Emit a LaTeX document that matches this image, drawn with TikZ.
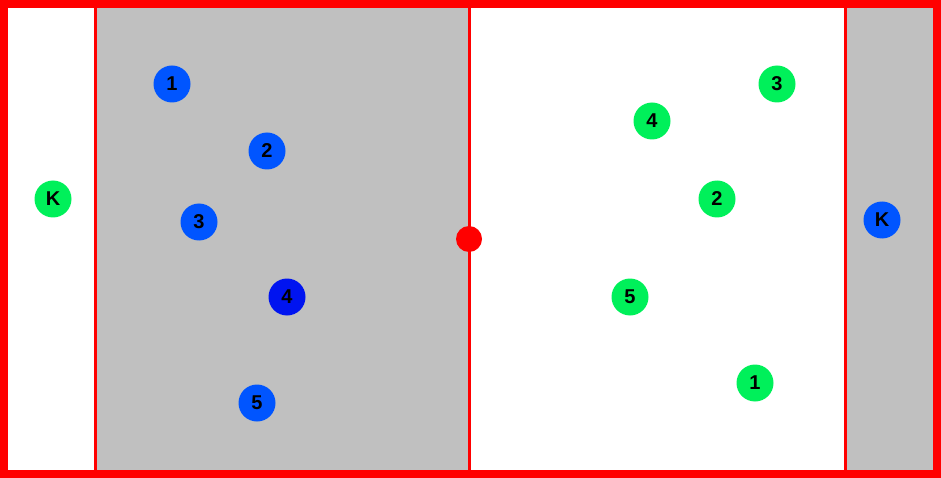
\documentclass[tikz,border=0pt]{standalone}
\usepackage{fontspec}
\setmainfont{Liberation Sans}
\definecolor{pitchred}{RGB}{255,0,0}
\definecolor{zonegray}{RGB}{192,192,192}
\definecolor{teamblue}{RGB}{0,85,255}
\definecolor{darkblue}{RGB}{0,20,240}
\definecolor{teamgreen}{RGB}{0,240,90}
\tikzset{
  player/.style={circle, inner sep=0pt, minimum size=37pt, font=\fontsize{20}{20}\selectfont\bfseries, text=black},
  blueplayer/.style={player, fill=teamblue},
  greenplayer/.style={player, fill=teamgreen}
}

\begin{document}
\begin{tikzpicture}[x=1pt,y=-1pt]
\useasboundingbox (0,0) rectangle (941,478);

% Gray zones
\fill[zonegray] (95,4) rectangle (469,474);
\fill[zonegray] (845,4) rectangle (936,474);

% Zone lines
\draw[pitchred, line width=3pt] (95,4) -- (95,474);
\draw[pitchred, line width=3pt] (469,4) -- (469,474);
\draw[pitchred, line width=3pt] (845,4) -- (845,474);

% Outer border
\draw[pitchred, line width=8pt] (4,4) rectangle (936.5,474);

% Centre spot
\fill[pitchred] (469,239) circle (13);

% Blue team
\node[blueplayer] (b1) at (172,84) {1};
\node[blueplayer] (b2) at (267,151) {2};
\node[blueplayer] (b3) at (199,222) {3};
\node[player, fill=darkblue] (b4) at (287,297) {4};
\node[blueplayer] (b5) at (257,403) {5};
\node[blueplayer] (bk) at (882,220) {K};

% Green team
\node[greenplayer] (g1) at (755,383) {1};
\node[greenplayer] (g2) at (717,199) {2};
\node[greenplayer] (g3) at (777,84) {3};
\node[greenplayer] (g4) at (652,121) {4};
\node[greenplayer] (g5) at (630,297) {5};
\node[greenplayer] (gk) at (53,199) {K};

\end{tikzpicture}
\end{document}
